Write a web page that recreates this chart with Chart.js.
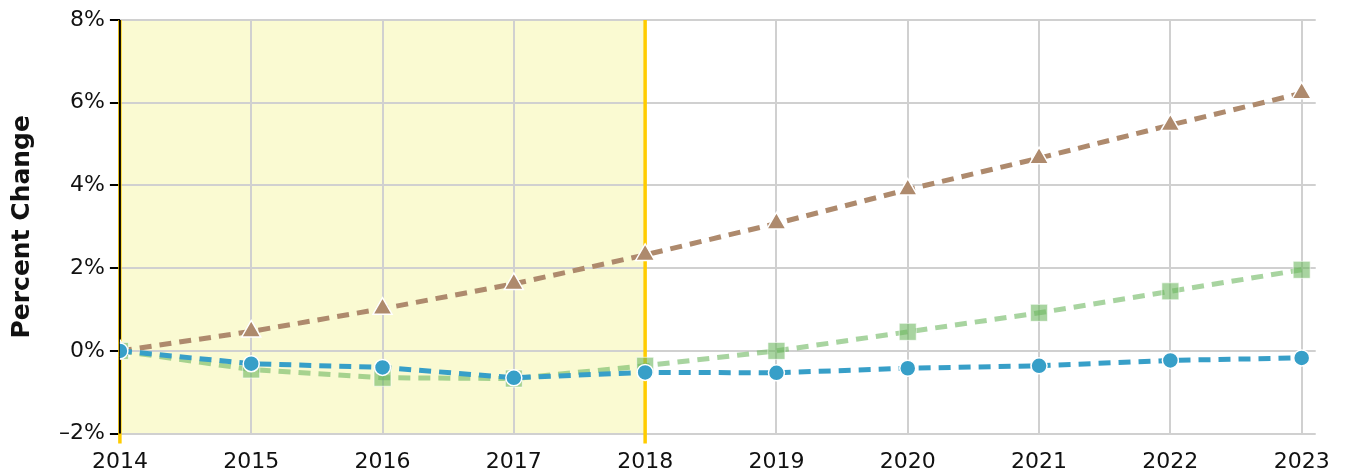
<!DOCTYPE html>
<html>
<head>
<meta charset="utf-8">
<script src="https://cdn.jsdelivr.net/npm/chart.js@4/dist/chart.umd.min.js"></script>
<style>
  html, body { margin: 0; padding: 0; background: #fff; }
  #wrap { width: 1345px; height: 475px; position: relative; }
</style>
</head>
<body>
<div id="wrap"><canvas id="chart"></canvas></div>
<script>
  var years = [2014, 2015, 2016, 2017, 2018, 2019, 2020, 2021, 2022, 2023];
  var brownSeries = [0, 0.47, 1.02, 1.62, 2.32, 3.08, 3.9, 4.66, 5.46, 6.23];
  var greenSeries = [0, -0.45, -0.65, -0.67, -0.36, 0, 0.46, 0.92, 1.44, 1.96];
  var blueSeries = [0, -0.31, -0.4, -0.65, -0.52, -0.53, -0.42, -0.36, -0.23, -0.17];
  var yTicks = [-2, 0, 2, 4, 6, 8];
  var shadeFrom = 2014, shadeTo = 2018;
  var FONT = 'DejaVu Sans, Verdana, sans-serif';

  function pts(vals) {
    return vals.map(function (v, i) { return { x: years[i], y: v }; });
  }

  // shaded period + gold markers at its edges, then the black y axis line on top
  var shadePlugin = {
    id: 'shade',
    beforeDraw: function (chart) {
      var a = chart.chartArea, x = chart.scales.x, ctx = chart.ctx;
      var x0 = x.getPixelForValue(shadeFrom), x1 = x.getPixelForValue(shadeTo);
      ctx.save();
      ctx.fillStyle = '#fafad2';
      ctx.fillRect(x0, a.top, x1 - x0, a.bottom - a.top);
      ctx.restore();
    },
    beforeDatasetsDraw: function (chart) {
      var a = chart.chartArea, x = chart.scales.x, ctx = chart.ctx;
      ctx.save();
      ctx.strokeStyle = '#ffcc00';
      ctx.lineWidth = 3.5;
      [shadeFrom, shadeTo].forEach(function (yr) {
        var px = x.getPixelForValue(yr);
        ctx.beginPath();
        ctx.moveTo(px, a.top);
        ctx.lineTo(px, a.bottom + 10);
        ctx.stroke();
      });
      ctx.strokeStyle = '#000';
      ctx.lineWidth = 2;
      ctx.beginPath();
      ctx.moveTo(a.left, a.top);
      ctx.lineTo(a.left, a.bottom);
      ctx.stroke();
      ctx.restore();
    }
  };

  new Chart(document.getElementById('chart'), {
    type: 'line',
    data: {
      datasets: [{
        data: pts(blueSeries),
        borderColor: '#379fc8',
        backgroundColor: '#379fc8',
        borderDash: [12, 8],
        borderWidth: 5,
        pointStyle: 'circle',
        pointRadius: 8,
        pointBorderColor: '#fff',
        pointBorderWidth: 1.5
      }, {
        data: pts(greenSeries),
        borderColor: 'rgba(110,183,97,0.6)',
        backgroundColor: 'rgba(110,183,97,0.6)',
        borderDash: [12, 8],
        borderWidth: 5,
        pointStyle: 'rect',
        pointRadius: 12,
        pointBorderColor: 'rgba(255,255,255,0.6)',
        pointBorderWidth: 1
      }, {
        data: pts(brownSeries),
        borderColor: '#ae8a6d',
        backgroundColor: '#ae8a6d',
        borderDash: [12, 8],
        borderWidth: 5,
        pointStyle: 'triangle',
        pointRadius: 11,
        pointBorderColor: '#fff',
        pointBorderWidth: 1.5
      }]
    },
    options: {
      responsive: true,
      maintainAspectRatio: false,
      animation: false,
      layout: { padding: { top: 20, right: 29, bottom: -15, left: 0 } },
      plugins: { legend: { display: false }, tooltip: { enabled: false } },
      scales: {
        x: {
          type: 'linear',
          min: 2014,
          max: 2023.107,
          afterBuildTicks: function (scale) {
            scale.ticks = years.map(function (y) { return { value: y }; });
          },
          grid: { color: '#d0d0d0', lineWidth: 2, drawTicks: false },
          border: { display: false },
          ticks: {
            padding: 15,
            maxRotation: 0,
            color: '#111',
            font: { family: FONT, size: 22 },
            callback: function (v) { return String(v); }
          }
        },
        y: {
          min: -2,
          max: 8,
          afterBuildTicks: function (scale) {
            scale.ticks = yTicks.map(function (v) { return { value: v }; });
          },
          grid: { color: '#d0d0d0', lineWidth: 2, tickColor: '#000', tickLength: 10, tickWidth: 2 },
          border: { display: false },
          ticks: {
            padding: 5,
            color: '#111',
            font: { family: FONT, size: 22 },
            callback: function (v) { return (v < 0 ? '\u2013' + Math.abs(v) : v) + '%'; }
          },
          title: {
            display: true,
            text: 'Percent Change',
            color: '#111',
            padding: { top: 7, bottom: 17 },
            font: { family: FONT, size: 25, weight: 'bold' }
          }
        }
      }
    },
    plugins: [shadePlugin]
  });
</script>
</body>
</html>
